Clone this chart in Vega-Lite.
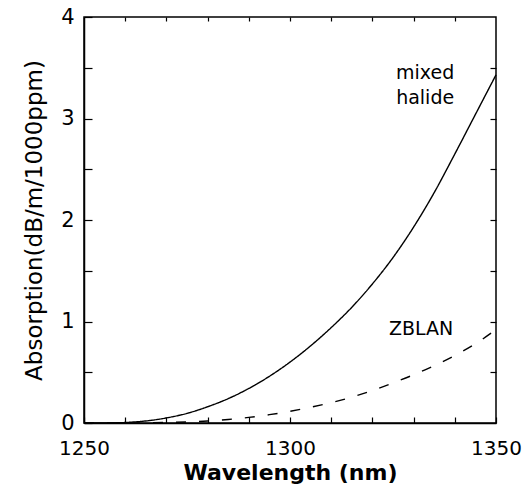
{
  "$schema": "https://vega.github.io/schema/vega-lite/v6.json",
  "width": 412,
  "height": 406,
  "autosize": "none",
  "padding": {"left": 84, "top": 17, "right": 33, "bottom": 78},
  "background": "white",
  "config": {
    "font": "DejaVu Sans",
    "view": {"stroke": "black", "strokeWidth": 1.5},
    "axis": {
      "domainColor": "black",
      "domainWidth": 1.5,
      "tickColor": "black",
      "tickWidth": 1.2,
      "labelColor": "black",
      "titleColor": "black",
      "grid": false
    }
  },
  "datasets": {
    "curves": [
      {"wl": 1250, "abs": 0.0, "series": "mixed halide"},
      {"wl": 1255, "abs": 0.0, "series": "mixed halide"},
      {"wl": 1260, "abs": 0.005, "series": "mixed halide"},
      {"wl": 1265, "abs": 0.02, "series": "mixed halide"},
      {"wl": 1270, "abs": 0.05, "series": "mixed halide"},
      {"wl": 1275, "abs": 0.095, "series": "mixed halide"},
      {"wl": 1280, "abs": 0.16, "series": "mixed halide"},
      {"wl": 1285, "abs": 0.24, "series": "mixed halide"},
      {"wl": 1290, "abs": 0.34, "series": "mixed halide"},
      {"wl": 1295, "abs": 0.46, "series": "mixed halide"},
      {"wl": 1300, "abs": 0.6, "series": "mixed halide"},
      {"wl": 1305, "abs": 0.76, "series": "mixed halide"},
      {"wl": 1310, "abs": 0.94, "series": "mixed halide"},
      {"wl": 1315, "abs": 1.14, "series": "mixed halide"},
      {"wl": 1320, "abs": 1.37, "series": "mixed halide"},
      {"wl": 1325, "abs": 1.63, "series": "mixed halide"},
      {"wl": 1330, "abs": 1.93, "series": "mixed halide"},
      {"wl": 1335, "abs": 2.27, "series": "mixed halide"},
      {"wl": 1340, "abs": 2.65, "series": "mixed halide"},
      {"wl": 1345, "abs": 3.04, "series": "mixed halide"},
      {"wl": 1350, "abs": 3.43, "series": "mixed halide"},
      {"wl": 1250, "abs": 0.0, "series": "ZBLAN"},
      {"wl": 1260, "abs": 0.0, "series": "ZBLAN"},
      {"wl": 1270, "abs": 0.005, "series": "ZBLAN"},
      {"wl": 1280, "abs": 0.02, "series": "ZBLAN"},
      {"wl": 1285, "abs": 0.035, "series": "ZBLAN"},
      {"wl": 1290, "abs": 0.055, "series": "ZBLAN"},
      {"wl": 1295, "abs": 0.082, "series": "ZBLAN"},
      {"wl": 1300, "abs": 0.115, "series": "ZBLAN"},
      {"wl": 1305, "abs": 0.155, "series": "ZBLAN"},
      {"wl": 1310, "abs": 0.2, "series": "ZBLAN"},
      {"wl": 1315, "abs": 0.255, "series": "ZBLAN"},
      {"wl": 1320, "abs": 0.32, "series": "ZBLAN"},
      {"wl": 1325, "abs": 0.395, "series": "ZBLAN"},
      {"wl": 1330, "abs": 0.475, "series": "ZBLAN"},
      {"wl": 1335, "abs": 0.565, "series": "ZBLAN"},
      {"wl": 1340, "abs": 0.665, "series": "ZBLAN"},
      {"wl": 1345, "abs": 0.78, "series": "ZBLAN"},
      {"wl": 1350, "abs": 0.92, "series": "ZBLAN"}
    ],
    "labels": [
      {"wl": 1332.8, "abs": 3.45, "text": "mixed"},
      {"wl": 1332.8, "abs": 3.2, "text": "halide"},
      {"wl": 1331.8, "abs": 0.93, "text": "ZBLAN"}
    ]
  },
  "layer": [
    {
      "data": {"name": "curves"},
      "mark": {"type": "line", "color": "black", "strokeWidth": 1.4, "interpolate": "monotone"},
      "encoding": {
        "x": {
          "field": "wl", "type": "quantitative",
          "scale": {"domain": [1250, 1350], "nice": false, "zero": false},
          "axis": {
            "orient": "bottom",
            "values": [1250, 1260, 1270, 1280, 1290, 1300, 1310, 1320, 1330, 1340, 1350],
            "labelExpr": "datum.value % 50 === 0 ? datum.label : ''",
            "tickSize": -6,
            "labelPadding": 21,
            "labelFontSize": 20,
            "labelFlush": false,
            "title": "Wavelength (nm)",
            "titleFontSize": 22,
            "titleFontWeight": "bold",
            "titlePadding": 4,
            "format": "d"
          }
        },
        "y": {
          "field": "abs", "type": "quantitative",
          "scale": {"domain": [0, 4], "nice": false},
          "axis": {
            "orient": "left",
            "values": [0, 0.5, 1, 1.5, 2, 2.5, 3, 3.5, 4],
            "labelExpr": "datum.value % 1 === 0 ? format(datum.value, 'd') : ''",
            "tickSize": -8,
            "labelPadding": 18,
            "labelFontSize": 21,
            "labelFlush": false,
            "title": "Absorption(dB/m/1000ppm)",
            "titleFontSize": 23,
            "titleFontWeight": "normal",
            "titlePadding": 14
          }
        },
        "strokeDash": {
          "field": "series", "type": "nominal",
          "scale": {"domain": ["mixed halide", "ZBLAN"], "range": [[1, 0], [10, 13]]},
          "legend": null
        }
      }
    },
    {
      "data": {"name": "labels"},
      "mark": {"type": "text", "fontSize": 19, "align": "center", "baseline": "middle", "color": "black"},
      "encoding": {
        "x": {
          "field": "wl", "type": "quantitative",
          "scale": {"domain": [1250, 1350], "nice": false, "zero": false},
          "axis": {
            "orient": "top",
            "values": [1260, 1270, 1280, 1290, 1300, 1310, 1320, 1330, 1340],
            "labels": false,
            "tickSize": -4,
            "domain": false,
            "title": null
          }
        },
        "y": {
          "field": "abs", "type": "quantitative",
          "scale": {"domain": [0, 4], "nice": false},
          "axis": {
            "orient": "right",
            "values": [0.5, 1, 1.5, 2, 2.5, 3, 3.5],
            "labels": false,
            "tickSize": -6,
            "domain": false,
            "title": null
          }
        },
        "text": {"field": "text", "type": "nominal"}
      }
    }
  ],
  "resolve": {"axis": {"x": "independent", "y": "independent"}}
}
